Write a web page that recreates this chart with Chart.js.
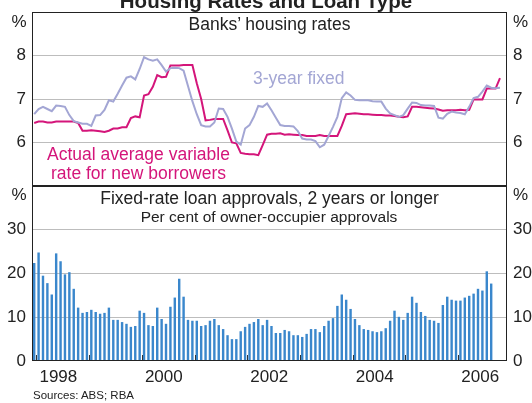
<!DOCTYPE html>
<html>
<head>
<meta charset="utf-8">
<script src="https://cdn.jsdelivr.net/npm/chart.js@4.4.1/dist/chart.umd.min.js"></script>
<style>
  body { margin: 0; background: #fff; }
  #wrap { position: relative; width: 532px; height: 403px; overflow: hidden; background: #fff;
          font-family: 'Liberation Sans', Arial, sans-serif; color: #222; }
  canvas { position: absolute; left: 0; }
  .t { position: absolute; white-space: nowrap; line-height: 1; }
  .c { width: 400px; text-align: center; }
</style>
</head>
<body>
<div id="wrap">
  <canvas id="rates" width="532" height="190" style="top:0"></canvas>
  <canvas id="approvals" width="532" height="210" style="top:180px"></canvas>

  <div class="t c" style="left:66px; top:-9.4px; font-size:20.5px; font-weight:bold">Housing Rates and Loan Type</div>
  <div class="t c" style="left:69.5px; top:16.2px; font-size:17.5px">Banks’ housing rates</div>
  <div class="t" style="left:-13.5px; width:40px; text-align:right; top:12.6px; font-size:17px">%</div>
  <div class="t" style="left:513px; top:12.6px; font-size:17px">%</div>
  <div class="t" style="left:-13.5px; width:40px; text-align:right; top:186.1px; font-size:17px">%</div>
  <div class="t" style="left:513px; top:186.1px; font-size:17px">%</div>
  <div class="t c" style="left:69.5px; top:190.2px; font-size:17.5px">Fixed-rate loan approvals, 2 years or longer</div>
  <div class="t c" style="left:69px; top:208.9px; font-size:15.5px">Per cent of owner-occupier approvals</div>
  <div class="t" style="left:253px; top:69.7px; font-size:17.5px; color:#a3a6d4">3-year fixed</div>
  <div class="t c" style="left:-61.5px; top:146.2px; font-size:17.5px; color:#d4157a">Actual average variable</div>
  <div class="t c" style="left:-61.5px; top:165.2px; font-size:17.5px; color:#d4157a">rate for new borrowers</div>
  <div class="t" style="left:33px; top:389.8px; font-size:11.5px">Sources: ABS; RBA</div>
</div>
<script>
const tickFont = { family: "'Liberation Sans', Arial, sans-serif", size: 17 };
const textColor = '#222';
const gridColor = '#bdbdbd';

// x is counted in months from Jan 1998; the first observation is Dec 1997
const firstMonth = -1;
const xMin = -1;
const xMax = 107.1;

// Actual average variable rate for new borrowers, monthly from Dec 1997
const variableRate = [
  6.45, 6.48, 6.48, 6.46, 6.46, 6.48, 6.48, 6.48, 6.48, 6.48,
  6.45, 6.27, 6.27, 6.28, 6.27, 6.26, 6.24, 6.27, 6.32, 6.32,
  6.35, 6.35, 6.56, 6.60, 6.58, 7.08, 7.11, 7.28, 7.55, 7.50,
  7.51, 7.77, 7.77, 7.77, 7.78, 7.78, 7.78, 7.36, 7.00, 6.51,
  6.52, 6.54, 6.54, 6.54, 6.28, 6.00, 5.98, 5.76, 5.74, 5.73,
  5.73, 5.71, 5.94, 6.18, 6.20, 6.20, 6.21, 6.18, 6.19, 6.18,
  6.17, 6.17, 6.15, 6.15, 6.15, 6.17, 6.15, 6.15, 6.15, 6.15,
  6.38, 6.65, 6.66, 6.67, 6.66, 6.65, 6.65, 6.64, 6.63, 6.63,
  6.62, 6.62, 6.61, 6.59, 6.58, 6.60, 6.82, 6.82, 6.81, 6.80,
  6.79, 6.78, 6.76, 6.73, 6.74, 6.74, 6.74, 6.75, 6.74, 6.75,
  6.99, 6.99, 6.99, 7.24, 7.24, 7.24, 7.48
];

// 3-year fixed rate, monthly from Dec 1997
const fixedRate = [
  6.65, 6.77, 6.82, 6.77, 6.72, 6.85, 6.84, 6.82, 6.63, 6.49,
  6.46, 6.43, 6.43, 6.38, 6.62, 6.63, 6.75, 6.97, 6.94, 7.12,
  7.31, 7.49, 7.52, 7.45, 7.69, 7.96, 7.91, 7.88, 7.91, 7.78,
  7.63, 7.71, 7.72, 7.71, 7.65, 7.30, 6.95, 6.65, 6.40, 6.37,
  6.37, 6.46, 6.78, 6.77, 6.59, 6.32, 6.02, 5.95, 6.32, 6.40,
  6.59, 6.84, 6.82, 6.90, 6.74, 6.57, 6.40, 6.38, 6.38, 6.37,
  6.26, 6.09, 6.07, 6.07, 6.03, 5.89, 5.95, 6.15, 6.36, 6.59,
  7.02, 7.15, 7.08, 6.98, 6.97, 6.97, 6.97, 6.95, 6.94, 6.94,
  6.78, 6.67, 6.63, 6.59, 6.63, 6.78, 6.92, 6.91, 6.86, 6.85,
  6.85, 6.84, 6.57, 6.55, 6.66, 6.71, 6.69, 6.68, 6.65, 6.82,
  7.02, 7.05, 7.17, 7.31, 7.26, 7.25, 7.26
];

// Fixed-rate approvals (2 years or longer), % of owner-occupier approvals, from Dec 1997
const fixedShare = [
  22.4, 24.8, 19.5, 17.8, 15.2, 24.6, 22.8, 19.8, 20.3, 16.5,
  12.2, 11.0, 11.2, 11.7, 11.2, 10.8, 11.0, 12.2, 9.4, 9.4,
  8.9, 8.5, 7.8, 8.0, 11.5, 11.0, 8.2, 8.0, 12.2, 9.6,
  8.5, 12.4, 14.5, 18.8, 14.7, 9.4, 9.2, 9.2, 8.0, 8.2,
  9.2, 9.6, 8.2, 7.3, 5.9, 5.0, 5.0, 6.8, 7.8, 8.5,
  8.9, 9.6, 8.2, 9.4, 8.0, 6.4, 6.4, 7.1, 6.8, 5.9,
  5.9, 5.5, 6.2, 7.3, 7.3, 6.6, 8.0, 9.2, 9.8, 12.6,
  15.2, 14.0, 11.9, 9.6, 8.2, 7.3, 7.1, 6.8, 6.6, 6.8,
  7.5, 9.2, 11.5, 10.1, 9.4, 11.0, 14.7, 13.3, 11.2, 10.3,
  9.4, 9.2, 8.7, 12.8, 14.7, 14.0, 13.8, 13.8, 14.5, 14.9,
  15.4, 16.5, 16.1, 20.5, 17.7
];

const yearLabels = [1998, 2000, 2002, 2004, 2006];
const yearStarts = [1998, 1999, 2000, 2001, 2002, 2003, 2004, 2005, 2006];
const rateTicks = [6, 7, 8];
const shareTicks = [0, 10, 20, 30];
const shareGrid = [10, 20, 30];

const toPoints = arr => arr.map((v, i) => ({ x: firstMonth + i + 0.5, y: v }));

// box around each panel
const frame = {
  id: 'frame',
  afterDraw(chart) {
    const { ctx, chartArea: a } = chart;
    ctx.save();
    ctx.strokeStyle = '#222';
    ctx.lineWidth = 1;
    ctx.strokeRect(Math.round(a.left) + 0.5, Math.round(a.top) + 0.5,
      Math.round(a.right - a.left) - 1, Math.round(a.bottom - a.top) - 1);
    ctx.restore();
  }
};

// short year marks standing on the bottom axis
const yearMarks = {
  id: 'yearMarks',
  afterDatasetsDraw(chart) {
    const { ctx, chartArea: a, scales } = chart;
    ctx.save();
    ctx.strokeStyle = '#333';
    ctx.lineWidth = 1;
    yearStarts.forEach(y => {
      const px = Math.round(scales.x.getPixelForValue((y - 1998) * 12)) + 0.5;
      ctx.beginPath();
      ctx.moveTo(px, a.bottom);
      ctx.lineTo(px, a.bottom - 6);
      ctx.stroke();
    });
    ctx.restore();
  }
};

function yAxis(position, min, max, step, labels, lines) {
  return {
    position: position,
    min: min,
    max: max,
    ticks: {
      stepSize: step,
      padding: 6,
      color: textColor,
      font: tickFont,
      callback: v => labels.includes(v) ? String(v) : ''
    },
    grid: {
      display: lines.length > 0,
      drawTicks: false,
      color: ctx => lines.includes(ctx.tick.value) ? gridColor : 'rgba(0,0,0,0)'
    },
    border: { display: false },
    afterFit: s => {
      s.width = position === 'left' ? 32 : 25;
      s.paddingTop = 0;
      s.paddingBottom = 0;
    }
  };
}

const common = {
  responsive: false,
  animation: false,
  plugins: { legend: { display: false }, tooltip: { enabled: false } }
};

new Chart(document.getElementById('rates'), {
  type: 'line',
  data: {
    datasets: [
      {
        label: '3-year fixed',
        data: toPoints(fixedRate),
        borderColor: '#a3a6d4',
        borderWidth: 2,
        pointRadius: 0,
        tension: 0
      },
      {
        label: 'Actual average variable rate for new borrowers',
        data: toPoints(variableRate),
        borderColor: '#d4157a',
        borderWidth: 2,
        pointRadius: 0,
        tension: 0
      }
    ]
  },
  options: {
    ...common,
    layout: { padding: { top: 12, bottom: 4, left: 0, right: 0 } },
    scales: {
      x: { type: 'linear', min: xMin, max: xMax, display: false },
      y: yAxis('left', 5, 9, 1, rateTicks, rateTicks),
      y2: yAxis('right', 5, 9, 1, rateTicks, [])
    }
  },
  plugins: [frame]
});

new Chart(document.getElementById('approvals'), {
  type: 'bar',
  data: {
    datasets: [{
      label: 'Fixed-rate loan approvals',
      data: toPoints(fixedShare),
      backgroundColor: '#3a87cc',
      barPercentage: 0.55,
      categoryPercentage: 1
    }]
  },
  options: {
    ...common,
    layout: { padding: { top: 6, bottom: 0, left: 0, right: 0 } },
    scales: {
      x: {
        type: 'linear',
        min: xMin,
        max: xMax,
        offset: false,
        afterBuildTicks: s => { s.ticks = yearLabels.map(y => ({ value: (y - 1998) * 12 + 5 })); },
        ticks: {
          padding: 6,
          color: textColor,
          font: tickFont,
          autoSkip: false,
          maxRotation: 0,
          callback: v => String(1998 + Math.round((v - 5) / 12))
        },
        grid: { display: false, drawTicks: false },
        border: { display: false },
        afterFit: s => {
          s.height = 29;
          s.paddingLeft = 0;
          s.paddingRight = 0;
        }
      },
      y: yAxis('left', 0, 40, 10, shareTicks, shareGrid),
      y2: yAxis('right', 0, 40, 10, shareTicks, [])
    }
  },
  plugins: [frame, yearMarks]
});
</script>
</body>
</html>
